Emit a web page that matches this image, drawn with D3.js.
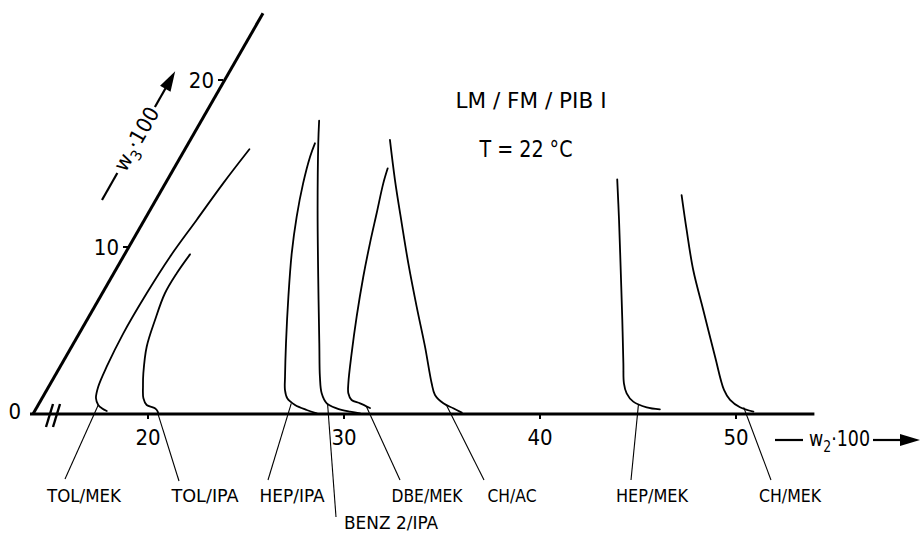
<!DOCTYPE html>
<html>
<head>
<meta charset="utf-8">
<script src="https://cdn.jsdelivr.net/npm/d3@7"></script>
<style>
  html, body { margin: 0; padding: 0; background: #fff; }
  svg { display: block; }
</style>
</head>
<body>
<script>
// Cloud-point curves in the LM / FM / PIB I system at 22 °C.
// Each curve is a list of [w2·100, w3·100] pairs, drawn in oblique
// (triangular) coordinates: w3 runs along the 60° axis.

const w2Ticks = [20, 30, 40, 50];
const w3Ticks = [10, 20];

const seriesNames = ["TOL/MEK", "TOL/IPA", "HEP/IPA", "BENZ 2/IPA", "DBE/MEK", "CH/AC", "HEP/MEK", "CH/MEK"];

const tolMek = [[17.49, 15.85], [17.14, 13.81], [16.85, 11.62], [16.56, 9.42], [16.43, 7.23], [16.40, 4.83],
                [16.52, 2.83], [16.67, 1.63], [16.89, 0.94], [17.20, 0.54], [17.50, 0.33], [17.81, 0.18]];
const tolIpa = [[17.51, 9.56], [17.38, 8.43], [17.36, 7.23], [17.63, 5.63], [17.98, 4.03], [18.58, 2.44],
                [18.93, 1.68], [19.31, 0.94], [19.67, 0.54], [20.19, 0.34], [20.43, 0.14], [20.52, 0.0]];
const hepIpa = [[20.66, 16.21], [20.80, 15.41], [21.22, 13.81], [21.86, 11.81], [22.67, 9.62], [23.76, 7.02],
                [24.99, 4.23], [25.91, 2.23], [26.29, 1.44], [26.65, 0.94], [27.24, 0.54], [27.98, 0.24], [28.59, 0.04]];
const benzIpa = [[20.22, 17.56], [20.83, 16.21], [22.73, 12.22], [24.70, 8.22], [26.69, 4.23], [27.69, 2.23],
                 [28.26, 1.24], [28.81, 0.64], [29.46, 0.34], [30.24, 0.14], [30.80, 0.04]];
const dbeMek = [[25.10, 14.71], [25.31, 13.81], [25.84, 12.02], [26.37, 10.22], [27.00, 8.22], [27.82, 5.83],
                [28.63, 3.63], [29.33, 1.84], [29.62, 1.24], [29.98, 0.84], [30.51, 0.64], [31.15, 0.36]];
const chAc = [[24.39, 16.41], [25.81, 14.01], [27.41, 11.42], [28.91, 9.02], [30.59, 6.43], [32.18, 4.03],
              [33.58, 1.84], [34.09, 1.14], [34.76, 0.64], [35.41, 0.34], [35.97, 0.08]];
const hepMek = [[37.13, 14.05], [38.40, 11.62], [39.94, 8.62], [41.47, 5.63], [42.78, 3.04], [43.39, 1.84],
                [43.82, 1.24], [44.40, 0.74], [45.25, 0.40], [45.98, 0.28]];
const chMek = [[40.87, 13.11], [42.14, 11.02], [43.64, 8.62], [45.31, 6.23], [47.27, 3.43], [48.69, 1.44],
               [49.29, 0.84], [50.01, 0.40], [50.82, 0.14]];

// point on each curve that its label's leader line points to
const leaderTargets = [[17.20, 0.54], [20.45, 0.08], [27.00, 0.64], [28.85, 0.64],
                       [30.95, 0.42], [34.95, 0.55], [44.75, 0.56], [50.20, 0.40]];

const curves = [tolMek, tolIpa, hepIpa, benzIpa, dbeMek, chAc, hepMek, chMek];

// ---- layout ----
const W = 922, H = 534;
const FONT = "'DejaVu Sans Condensed','Liberation Sans Narrow','DejaVu Sans',sans-serif";
const baseY = 414;          // baseline of the w2 axis
const originX = 33;         // broken origin where the w3 axis starts
const w2Max = 54, w3Max = 24;

const x = d3.scaleLinear().domain([20, 50]).range([148, 736]);
const y = d3.scaleLinear().domain([0, 20]).range([baseY, baseY - 334]);
const shear = 9.5 / 16.7;   // horizontal shift per pixel of height (≈ cot 60°)

const px = (w2, w3) => x(w2) + (baseY - y(w3)) * shear;
const py = (w2, w3) => y(w3);
const ox = w3 => originX + (baseY - y(w3)) * shear;

// label placement: text centre, baseline, rendered width and leader start
const labelLayout = [
  { tx: 84,  ty: 502, w: 74, lx: 65,  ly: 479 },
  { tx: 205, ty: 502, w: 67, lx: 179, ly: 481 },
  { tx: 292, ty: 502, w: 65, lx: 268, ly: 480 },
  { tx: 391, ty: 529, w: 94, lx: 336, ly: 517 },
  { tx: 427, ty: 502, w: 71, lx: 400, ly: 480 },
  { tx: 512, ty: 502, w: 49, lx: 484, ly: 480 },
  { tx: 652, ty: 502, w: 72, lx: 631, ly: 480 },
  { tx: 790, ty: 502, w: 62, lx: 771, ly: 480 }
];

const svg = d3.select("body").append("svg")
  .attr("width", W).attr("height", H)
  .style("background", "#fff");

const ink = "#000";

// ---- axes ----
const axes = svg.append("g").attr("stroke", ink).attr("fill", "none").attr("stroke-linecap", "butt");

// w2 axis
axes.append("line")
  .attr("x1", originX - 3).attr("y1", baseY)
  .attr("x2", x(w2Max)).attr("y2", baseY)
  .attr("stroke-width", 3);

// axis break marks
[0, 7].forEach(d => {
  axes.append("line")
    .attr("x1", 46 + d).attr("y1", baseY + 13)
    .attr("x2", 53 + d).attr("y2", baseY - 10)
    .attr("stroke-width", 2.4);
});

// w3 axis (oblique)
axes.append("line")
  .attr("x1", ox(0)).attr("y1", y(0))
  .attr("x2", ox(w3Max) + 2).attr("y2", y(w3Max))
  .attr("stroke-width", 3);

// ticks
axes.selectAll(".t2").data(w2Ticks).join("line")
  .attr("x1", d => x(d)).attr("x2", d => x(d))
  .attr("y1", baseY).attr("y2", baseY + 5)
  .attr("stroke-width", 2);

axes.selectAll(".t3").data(w3Ticks).join("line")
  .attr("x1", d => ox(d) - 5).attr("x2", d => ox(d))
  .attr("y1", d => y(d)).attr("y2", d => y(d))
  .attr("stroke-width", 2);

const txt = svg.append("g").attr("font-family", FONT).attr("fill", ink);

txt.selectAll(".l2").data(w2Ticks).join("text")
  .attr("x", d => x(d)).attr("y", baseY + 31)
  .attr("text-anchor", "middle")
  .attr("font-size", 22)
  .text(d => d);

txt.selectAll(".l3").data(w3Ticks).join("text")
  .attr("x", d => ox(d) - 9).attr("y", d => y(d) + 8)
  .attr("text-anchor", "end")
  .attr("font-size", 22)
  .text(d => d);

txt.append("text")
  .attr("x", originX - 12).attr("y", baseY + 5)
  .attr("text-anchor", "end")
  .attr("font-size", 22)
  .text("0");

// w2 axis title with arrow
const t2 = svg.append("g");
t2.append("line").attr("x1", 775).attr("x2", 803).attr("y1", 440).attr("y2", 440)
  .attr("stroke", ink).attr("stroke-width", 2.2);
const t2text = t2.append("text").attr("x", 809).attr("y", 446)
  .attr("font-family", FONT).attr("font-size", 21).attr("fill", ink)
  .attr("textLength", 61).attr("lengthAdjust", "spacingAndGlyphs");
t2text.append("tspan").text("w");
t2text.append("tspan").attr("dy", 6).attr("font-size", 15).text("2");
t2text.append("tspan").attr("dy", -6).text("·100");
t2.append("line").attr("x1", 873).attr("x2", 903).attr("y1", 440).attr("y2", 440)
  .attr("stroke", ink).attr("stroke-width", 2.2);
t2.append("path").attr("d", "M900,434 L920,440 L900,446 Z").attr("fill", ink);

// w3 axis title with arrow, running parallel to the oblique axis
const angle = Math.atan2(y(0) - y(10), ox(10) - ox(0)) * 180 / Math.PI;
const t3 = svg.append("g").attr("transform", `translate(102,200) rotate(${-angle})`);
t3.append("line").attr("x1", 0).attr("x2", 31).attr("y1", 0).attr("y2", 0)
  .attr("stroke", ink).attr("stroke-width", 2.2);
const t3text = t3.append("text").attr("x", 35).attr("y", 7)
  .attr("font-family", FONT).attr("font-size", 21).attr("fill", ink)
  .attr("textLength", 70).attr("lengthAdjust", "spacingAndGlyphs");
t3text.append("tspan").text("w");
t3text.append("tspan").attr("dy", 6).attr("font-size", 15).text("3");
t3text.append("tspan").attr("dy", -6).text("·100");
t3.append("line").attr("x1", 107).attr("x2", 130).attr("y1", 0).attr("y2", 0)
  .attr("stroke", ink).attr("stroke-width", 2.2);
t3.append("path").attr("d", "M128,-6 L148,0 L128,6 Z").attr("fill", ink);

// system and temperature
txt.append("text").attr("x", 531).attr("y", 108).attr("text-anchor", "middle")
  .attr("font-size", 21)
  .attr("textLength", 151).attr("lengthAdjust", "spacingAndGlyphs")
  .text("LM / FM / PIB I");
txt.append("text").attr("x", 526).attr("y", 157).attr("text-anchor", "middle")
  .attr("font-size", 23)
  .attr("textLength", 93).attr("lengthAdjust", "spacingAndGlyphs")
  .text("T = 22 °C");

// ---- curves ----
const line = d3.line()
  .x(d => px(d[0], d[1]))
  .y(d => py(d[0], d[1]))
  .curve(d3.curveCatmullRom.alpha(0.5));

svg.append("g").selectAll("path").data(curves).join("path")
  .attr("d", line)
  .attr("fill", "none")
  .attr("stroke", ink)
  .attr("stroke-width", 1.8)
  .attr("stroke-linejoin", "round")
  .attr("stroke-linecap", "round");

// ---- curve labels and leader lines ----
const lab = svg.append("g");
lab.selectAll("line").data(seriesNames).join("line")
  .attr("x1", (d, i) => labelLayout[i].lx).attr("y1", (d, i) => labelLayout[i].ly)
  .attr("x2", (d, i) => px(leaderTargets[i][0], leaderTargets[i][1]))
  .attr("y2", (d, i) => py(leaderTargets[i][0], leaderTargets[i][1]))
  .attr("stroke", ink).attr("stroke-width", 1.1);

lab.selectAll("text").data(seriesNames).join("text")
  .attr("x", (d, i) => labelLayout[i].tx).attr("y", (d, i) => labelLayout[i].ty)
  .attr("text-anchor", "middle")
  .attr("font-family", FONT).attr("font-size", 17)
  .attr("textLength", (d, i) => labelLayout[i].w).attr("lengthAdjust", "spacingAndGlyphs")
  .attr("fill", ink)
  .text(d => d);
</script>
</body>
</html>
